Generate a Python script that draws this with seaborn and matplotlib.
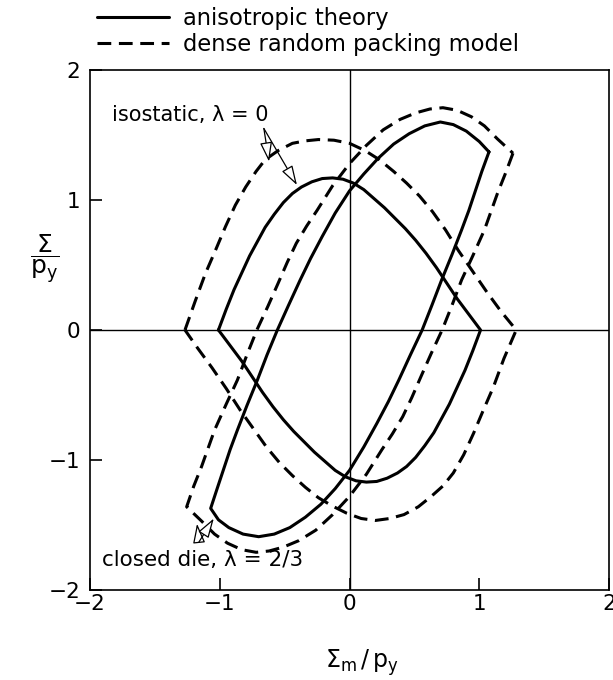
import matplotlib
matplotlib.use("Agg")
import matplotlib.pyplot as plt
import numpy as np
import pandas as pd
import seaborn as sns

THEORY = "anisotropic theory"
DRP = "dense random packing model"

# Isostatic loading (lambda = 0): left vertex -> upper arc -> right vertex -> lower arc
iso_theory_x = [-1.01, -0.95, -0.89, -0.83, -0.77, -0.71, -0.65, -0.58, -0.51, -0.44, -0.37, -0.29,
                -0.21, -0.13, -0.05, 0.03, 0.11, 0.19, 0.27, 0.35, 0.43, 0.51, 0.59, 0.67, 0.75, 0.83, 0.92,
                1.01, 0.95, 0.89, 0.83, 0.77, 0.71, 0.65, 0.58, 0.51, 0.44, 0.37, 0.29, 0.21, 0.13, 0.05,
                -0.03, -0.11, -0.19, -0.27, -0.35, -0.43, -0.51, -0.59, -0.67, -0.75, -0.83, -0.92, -1.01]
iso_theory_y = [0.00, 0.16, 0.31, 0.44, 0.57, 0.68, 0.79, 0.89, 0.98, 1.05, 1.10, 1.14,
                1.165, 1.17, 1.16, 1.13, 1.08, 1.01, 0.94, 0.86, 0.78, 0.69, 0.59, 0.48, 0.36, 0.24, 0.12,
                0.00, -0.16, -0.31, -0.44, -0.57, -0.68, -0.79, -0.89, -0.98, -1.05, -1.10, -1.14, -1.165, -1.17, -1.16,
                -1.13, -1.08, -1.01, -0.94, -0.86, -0.78, -0.69, -0.59, -0.48, -0.36, -0.24, -0.12, 0.00]

iso_drp_x = [-1.268, -1.19, -1.11, -1.03, -0.956, -0.88, -0.80, -0.72, -0.65, -0.55, -0.44, -0.34, -0.24,
             -0.12, 0.00, 0.12, 0.23, 0.34, 0.44, 0.54, 0.64, 0.74, 0.84, 0.95, 1.06, 1.17,
             1.285, 1.19, 1.11, 1.03, 0.956, 0.88, 0.80, 0.72, 0.63, 0.53, 0.42, 0.31, 0.20,
             0.09, -0.02, -0.13, -0.24, -0.34, -0.44, -0.54, -0.64, -0.74, -0.84, -0.95, -1.06, -1.17, -1.268]
iso_drp_y = [0.00, 0.22, 0.436, 0.62, 0.795, 0.96, 1.10, 1.22, 1.31, 1.38, 1.436, 1.455, 1.465,
             1.46, 1.436, 1.38, 1.31, 1.22, 1.13, 1.03, 0.91, 0.77, 0.61, 0.45, 0.29, 0.14,
             0.00, -0.22, -0.436, -0.62, -0.795, -0.96, -1.10, -1.20, -1.28, -1.36, -1.42, -1.45, -1.465,
             -1.45, -1.41, -1.355, -1.29, -1.21, -1.12, -1.02, -0.90, -0.76, -0.62, -0.45, -0.29, -0.14, 0.00]

# Closed-die loading (lambda = 2/3): upper vertex -> back flank -> lower vertex -> front flank
die_theory_x = [1.075, 1.02, 0.97, 0.92, 0.864, 0.79, 0.71, 0.635, 0.56, 0.47, 0.38, 0.30, 0.21, 0.11,
                0.00, -0.11, -0.22, -0.34, -0.46, -0.58, -0.70, -0.82, -0.93, -1.01,
                -1.07, -1.02, -0.97, -0.92, -0.864, -0.79, -0.71, -0.635, -0.556, -0.47, -0.38, -0.30, -0.21, -0.11,
                0.00, 0.11, 0.22, 0.34, 0.46, 0.58, 0.70, 0.80, 0.90, 1.00, 1.075]
die_theory_y = [1.37, 1.22, 1.07, 0.92, 0.77, 0.58, 0.385, 0.19, 0.00, -0.19, -0.385, -0.55, -0.72, -0.90,
                -1.08, -1.22, -1.34, -1.44, -1.52, -1.57, -1.59, -1.57, -1.52, -1.46,
                -1.372, -1.22, -1.07, -0.92, -0.77, -0.58, -0.385, -0.19, 0.00, 0.19, 0.385, 0.55, 0.72, 0.90,
                1.07, 1.20, 1.32, 1.43, 1.51, 1.57, 1.60, 1.58, 1.53, 1.45, 1.37]

die_drp_x = [1.26, 1.20, 1.14, 1.09, 1.04, 0.95, 0.864, 0.79, 0.714, 0.63, 0.55, 0.48, 0.41, 0.33, 0.25, 0.13,
             0.00, -0.13, -0.26, -0.39, -0.51, -0.62, -0.72, -0.83, -0.94, -1.04, -1.14,
             -1.255, -1.20, -1.14, -1.09, -1.04, -0.95, -0.864, -0.79, -0.714, -0.63, -0.55, -0.48, -0.41,
             -0.33, -0.25, -0.13, 0.00, 0.13, 0.26, 0.39, 0.51, 0.62, 0.72, 0.83, 0.94, 1.04, 1.14, 1.26]
die_drp_y = [1.36, 1.20, 1.05, 0.91, 0.77, 0.57, 0.385, 0.19, 0.00, -0.18, -0.36, -0.52, -0.667, -0.80, -0.92, -1.11,
             -1.28, -1.42, -1.54, -1.62, -1.67, -1.70, -1.71, -1.69, -1.64, -1.57, -1.47,
             -1.36, -1.20, -1.05, -0.91, -0.77, -0.57, -0.385, -0.19, 0.00, 0.18, 0.36, 0.52, 0.667,
             0.80, 0.92, 1.11, 1.28, 1.42, 1.54, 1.62, 1.67, 1.70, 1.71, 1.69, 1.64, 1.57, 1.47, 1.36]

ticks = [-2, -1, 0, 1, 2]

curves = [
    ("iso_theory", THEORY, iso_theory_x, iso_theory_y),
    ("iso_drp", DRP, iso_drp_x, iso_drp_y),
    ("die_theory", THEORY, die_theory_x, die_theory_y),
    ("die_drp", DRP, die_drp_x, die_drp_y),
]
df = pd.concat(
    [pd.DataFrame({"x": xs, "y": ys, "curve": name, "model": model}) for name, model, xs, ys in curves],
    ignore_index=True,
)

sns.set_theme(style="white")
plt.rcParams["font.family"] = ["DejaVu Sans"]
plt.rcParams["mathtext.default"] = "regular"
plt.rcParams["axes.unicode_minus"] = True
plt.rcParams["text.color"] = "black"
plt.rcParams["axes.labelcolor"] = "black"
plt.rcParams["xtick.color"] = "black"
plt.rcParams["ytick.color"] = "black"

fig = plt.figure(figsize=(6.13, 6.80), dpi=100)
ax = fig.add_axes([90 / 613, 90 / 680, 519 / 613, 520 / 680])

ax.axhline(0, color="black", lw=1.0, zorder=1)
ax.axvline(0, color="black", lw=1.0, zorder=1)

sns.lineplot(
    data=df, x="x", y="y", units="curve", style="model", estimator=None, sort=False,
    color="black", linewidth=2.2, style_order=[THEORY, DRP],
    dashes={THEORY: "", DRP: (4.5, 2.5)}, ax=ax, legend=True, zorder=3,
)

handles, labels = ax.get_legend_handles_labels()
ax.get_legend().remove()
fig.legend(
    handles, labels, loc="upper left", bbox_to_anchor=(97 / 613, 1 - 7 / 680),
    frameon=False, fontsize=16.3, handlelength=3.2, handletextpad=0.6,
    labelspacing=0.15, borderaxespad=0, borderpad=0,
)

ax.set_xlim(-2, 2)
ax.set_ylim(-2, 2)
ax.set_xticks(ticks)
ax.set_yticks(ticks)
ax.tick_params(direction="in", length=8.5, width=1.2, labelsize=15.5, colors="black",
               bottom=True, left=True, top=False, right=False)
ax.tick_params(axis="x", pad=3)
ax.tick_params(axis="y", pad=7)
for sp in ax.spines.values():
    sp.set_color("black")
    sp.set_linewidth(1.2)

ax.set_xlabel("")
ax.set_ylabel("")
fig.text(362 / 613, 1 - 663 / 680, r"$\Sigma_m\,/\,p_y$", fontsize=17, ha="center", va="center")
fig.text(45 / 613, 1 - 259 / 680, r"$\dfrac{\Sigma}{p_y}$", fontsize=18, ha="center", va="center")

arrow = dict(arrowstyle="-|>,head_length=0.8,head_width=0.25", color="black", lw=0.9,
             fc="white", shrinkA=0, shrinkB=0, mutation_scale=15)
ax.text(-1.83, 1.654, "isostatic, λ = 0", fontsize=15, ha="left", va="center")
ax.annotate("", xy=(-0.62, 1.295), xytext=(-0.66, 1.55), arrowprops=arrow, zorder=4)
ax.annotate("", xy=(-0.405, 1.115), xytext=(-0.66, 1.55), arrowprops=arrow, zorder=4)

ax.text(-1.908, -1.77, "closed die, λ = 2/3", fontsize=15.5, ha="left", va="center")
ax.annotate("", xy=(-1.175, -1.49), xytext=(-1.16, -1.63), arrowprops=arrow, zorder=4)
ax.annotate("", xy=(-1.046, -1.45), xytext=(-1.16, -1.63), arrowprops=arrow, zorder=4)

fig.savefig("out.png", dpi=100, facecolor="white")
